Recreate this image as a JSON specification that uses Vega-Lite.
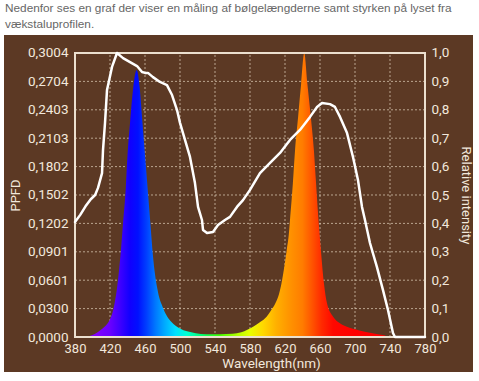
{
  "$schema": "https://vega.github.io/schema/vega-lite/v6.json",
  "width": 469,
  "height": 337,
  "autosize": {"type": "none"},
  "padding": {"left": 4, "top": 35, "right": 6, "bottom": 9},
  "background": "#ffffff",
  "view": {"fill": "#5c3924", "stroke": null},
  "title": {
    "text": ["Nedenfor ses en graf der viser en måling af bølgelængderne samt styrken på lyset fra", "vækstaluprofilen."],
    "anchor": "start", "frame": "group", "orient": "top",
    "font": "Liberation Sans", "fontSize": 11.8, "fontWeight": "normal", "color": "#666666",
    "lineHeight": 16, "offset": 4, "dx": 1
  },
  "datasets": {
    "vgrid": [{"nm": 420}, {"nm": 460}, {"nm": 500}, {"nm": 540}, {"nm": 580}, {"nm": 620}, {"nm": 660}, {"nm": 700}, {"nm": 740}],
    "hgrid": [{"ppfd": 0.03004}, {"ppfd": 0.06008}, {"ppfd": 0.09012}, {"ppfd": 0.12016}, {"ppfd": 0.1502}, {"ppfd": 0.18024}, {"ppfd": 0.21028}, {"ppfd": 0.24032}, {"ppfd": 0.27036}],
    "spec": [
      {"nm": 380, "ppfd": 0}, {"nm": 390, "ppfd": 0}, {"nm": 395, "ppfd": 0.0005}, {"nm": 400, "ppfd": 0.002},
      {"nm": 405, "ppfd": 0.0045}, {"nm": 410, "ppfd": 0.008}, {"nm": 415, "ppfd": 0.012}, {"nm": 419, "ppfd": 0.017},
      {"nm": 424, "ppfd": 0.03}, {"nm": 428, "ppfd": 0.0515}, {"nm": 432, "ppfd": 0.0867}, {"nm": 435, "ppfd": 0.122},
      {"nm": 438, "ppfd": 0.157}, {"nm": 440, "ppfd": 0.1925}, {"nm": 443, "ppfd": 0.2277}, {"nm": 446.5, "ppfd": 0.263},
      {"nm": 450.5, "ppfd": 0.2824}, {"nm": 454, "ppfd": 0.263}, {"nm": 457, "ppfd": 0.2277}, {"nm": 460, "ppfd": 0.1925},
      {"nm": 463, "ppfd": 0.157}, {"nm": 466, "ppfd": 0.122}, {"nm": 469, "ppfd": 0.0867}, {"nm": 474, "ppfd": 0.0515},
      {"nm": 481, "ppfd": 0.03}, {"nm": 490, "ppfd": 0.016}, {"nm": 500, "ppfd": 0.009}, {"nm": 508, "ppfd": 0.006},
      {"nm": 518, "ppfd": 0.004}, {"nm": 530, "ppfd": 0.003}, {"nm": 545, "ppfd": 0.003}, {"nm": 560, "ppfd": 0.0035},
      {"nm": 570, "ppfd": 0.005}, {"nm": 584, "ppfd": 0.011}, {"nm": 592, "ppfd": 0.016}, {"nm": 599, "ppfd": 0.0215},
      {"nm": 604, "ppfd": 0.028}, {"nm": 609, "ppfd": 0.0356}, {"nm": 613, "ppfd": 0.045}, {"nm": 616, "ppfd": 0.0569},
      {"nm": 619, "ppfd": 0.073}, {"nm": 622, "ppfd": 0.0921}, {"nm": 624.5, "ppfd": 0.11}, {"nm": 626, "ppfd": 0.1274},
      {"nm": 629, "ppfd": 0.1626}, {"nm": 631.5, "ppfd": 0.1978}, {"nm": 635, "ppfd": 0.233}, {"nm": 638.5, "ppfd": 0.2684},
      {"nm": 642, "ppfd": 0.3004}, {"nm": 645.5, "ppfd": 0.2684}, {"nm": 649.5, "ppfd": 0.233}, {"nm": 653, "ppfd": 0.1978},
      {"nm": 655.5, "ppfd": 0.1626}, {"nm": 658, "ppfd": 0.1274}, {"nm": 661, "ppfd": 0.0921}, {"nm": 664.5, "ppfd": 0.0569},
      {"nm": 668, "ppfd": 0.0356}, {"nm": 675, "ppfd": 0.0215}, {"nm": 682, "ppfd": 0.015}, {"nm": 690, "ppfd": 0.011},
      {"nm": 705, "ppfd": 0.007}, {"nm": 720, "ppfd": 0.004}, {"nm": 732, "ppfd": 0.002}, {"nm": 740, "ppfd": 0},
      {"nm": 780, "ppfd": 0}
    ],
    "rel": [
      {"nm": 380, "rel": 0.405}, {"nm": 386, "rel": 0.43}, {"nm": 392, "rel": 0.46}, {"nm": 398, "rel": 0.485},
      {"nm": 403, "rel": 0.5}, {"nm": 406.3, "rel": 0.525}, {"nm": 410.9, "rel": 0.577}, {"nm": 412, "rel": 0.658},
      {"nm": 414.3, "rel": 0.754}, {"nm": 416.6, "rel": 0.87}, {"nm": 422.3, "rel": 0.951}, {"nm": 428, "rel": 1.0},
      {"nm": 434.9, "rel": 0.982}, {"nm": 442.9, "rel": 0.968}, {"nm": 450.9, "rel": 0.954}, {"nm": 456.6, "rel": 0.933},
      {"nm": 460, "rel": 0.93}, {"nm": 463.4, "rel": 0.93}, {"nm": 469.1, "rel": 0.915}, {"nm": 477.1, "rel": 0.898},
      {"nm": 485.1, "rel": 0.887}, {"nm": 490.9, "rel": 0.852}, {"nm": 496.6, "rel": 0.799}, {"nm": 500, "rel": 0.754},
      {"nm": 505.7, "rel": 0.694}, {"nm": 511.4, "rel": 0.634}, {"nm": 517.1, "rel": 0.542}, {"nm": 520.6, "rel": 0.458},
      {"nm": 525.1, "rel": 0.412}, {"nm": 526.3, "rel": 0.377}, {"nm": 530.9, "rel": 0.366}, {"nm": 537.7, "rel": 0.37},
      {"nm": 543.4, "rel": 0.394}, {"nm": 551.4, "rel": 0.412}, {"nm": 557.1, "rel": 0.423}, {"nm": 565.1, "rel": 0.458},
      {"nm": 572, "rel": 0.482}, {"nm": 580, "rel": 0.518}, {"nm": 591.4, "rel": 0.577}, {"nm": 602.9, "rel": 0.613},
      {"nm": 614.3, "rel": 0.648}, {"nm": 625.7, "rel": 0.694}, {"nm": 637.1, "rel": 0.729}, {"nm": 648.6, "rel": 0.775},
      {"nm": 656.6, "rel": 0.81}, {"nm": 662.3, "rel": 0.824}, {"nm": 671.4, "rel": 0.82}, {"nm": 677.1, "rel": 0.81},
      {"nm": 682.9, "rel": 0.775}, {"nm": 690.9, "rel": 0.718}, {"nm": 697.7, "rel": 0.634}, {"nm": 703.4, "rel": 0.553},
      {"nm": 708, "rel": 0.458}, {"nm": 711.4, "rel": 0.412}, {"nm": 717.1, "rel": 0.331}, {"nm": 725.1, "rel": 0.246},
      {"nm": 732, "rel": 0.165}, {"nm": 737.7, "rel": 0.095}, {"nm": 743.4, "rel": 0.014}, {"nm": 745.7, "rel": 0},
      {"nm": 780, "rel": 0}
    ]
  },
  "layer": [
    {
      "layer": [
        {
          "data": {"name": "vgrid"},
          "mark": {"type": "rule", "color": "#e3d3bd", "strokeDash": [2, 2], "opacity": 0.7, "strokeWidth": 1},
          "encoding": {
            "x": {"field": "nm", "type": "quantitative", "scale": {"domain": [298.857, 834.857], "nice": false, "zero": false},
              "axis": {
                "orient": "bottom", "offset": -35,
                "title": "Wavelength(nm)", "titleX": 267,
                "values": [380, 420, 460, 500, 540, 580, 620, 660, 700, 740, 780],
                "grid": false, "domain": false, "ticks": false, "tickSize": 0, "labelFlush": false, "labelOverlap": false,
                "labelPadding": 5, "labelFont": "Roboto", "labelFontSize": 13, "labelColor": "#f2e8dc",
                "titlePadding": 1, "titleFont": "Roboto", "titleFontSize": 13.5, "titleFontWeight": "normal", "titleColor": "#f2e8dc"
              }},
            "y": {"datum": 0, "type": "quantitative", "scale": {"domain": [-0.037021, 0.319439], "nice": false, "zero": false},
              "axis": {
                "orient": "left", "offset": -71, "title": "PPFD", "titleX": -53, "titleY": 160,
                "values": [0, 0.03004, 0.06008, 0.09012, 0.12016, 0.1502, 0.18024, 0.21028, 0.24032, 0.27036, 0.3004],
                "labelExpr": "replace(format(datum.value, '.4f'), '.', ',')",
                "grid": false, "domain": false, "ticks": false, "tickSize": 0, "labelFlush": false, "labelOverlap": false,
                "labelPadding": 7, "labelFont": "Roboto", "labelFontSize": 13.5, "labelColor": "#f2e8dc",
                "titleFont": "Roboto", "titleFontSize": 13, "titleFontWeight": "normal", "titleColor": "#f2e8dc"
              }},
            "y2": {"datum": 0.3004}
          }
        },
        {
          "data": {"name": "hgrid"},
          "mark": {"type": "rule", "color": "#e3d3bd", "strokeDash": [2, 2], "opacity": 0.7, "strokeWidth": 1},
          "encoding": {
            "x": {"datum": 380, "type": "quantitative", "scale": {"domain": [298.857, 834.857], "nice": false, "zero": false},
              "axis": {
                "orient": "bottom", "offset": -35,
                "title": "Wavelength(nm)", "titleX": 267,
                "values": [380, 420, 460, 500, 540, 580, 620, 660, 700, 740, 780],
                "grid": false, "domain": false, "ticks": false, "tickSize": 0, "labelFlush": false, "labelOverlap": false,
                "labelPadding": 5, "labelFont": "Roboto", "labelFontSize": 13, "labelColor": "#f2e8dc",
                "titlePadding": 1, "titleFont": "Roboto", "titleFontSize": 13.5, "titleFontWeight": "normal", "titleColor": "#f2e8dc"
              }},
            "x2": {"datum": 780},
            "y": {"field": "ppfd", "type": "quantitative", "scale": {"domain": [-0.037021, 0.319439], "nice": false, "zero": false},
              "axis": {
                "orient": "left", "offset": -71, "title": "PPFD", "titleX": -53, "titleY": 160,
                "values": [0, 0.03004, 0.06008, 0.09012, 0.12016, 0.1502, 0.18024, 0.21028, 0.24032, 0.27036, 0.3004],
                "labelExpr": "replace(format(datum.value, '.4f'), '.', ',')",
                "grid": false, "domain": false, "ticks": false, "tickSize": 0, "labelFlush": false, "labelOverlap": false,
                "labelPadding": 7, "labelFont": "Roboto", "labelFontSize": 13.5, "labelColor": "#f2e8dc",
                "titleFont": "Roboto", "titleFontSize": 13, "titleFontWeight": "normal", "titleColor": "#f2e8dc"
              }}
          }
        },
        {
          "data": {"name": "spec"},
          "mark": {
            "type": "area", "interpolate": "monotone",
            "fill": {
              "gradient": "linear", "x1": 0, "y1": 0, "x2": 1, "y2": 0,
              "stops": [
                {"offset": 0, "color": "#7a00ff"},
                {"offset": 0.0625, "color": "#8000ff"},
                {"offset": 0.1, "color": "#6a00ff"},
                {"offset": 0.13, "color": "#3c00ff"},
                {"offset": 0.1575, "color": "#1000ff"},
                {"offset": 0.18, "color": "#0010ff"},
                {"offset": 0.205, "color": "#0040ff"},
                {"offset": 0.23, "color": "#0078ff"},
                {"offset": 0.255, "color": "#00a8ff"},
                {"offset": 0.2875, "color": "#00e0ff"},
                {"offset": 0.32, "color": "#00ffd0"},
                {"offset": 0.3625, "color": "#00ff70"},
                {"offset": 0.4125, "color": "#40ff00"},
                {"offset": 0.4625, "color": "#b0ff00"},
                {"offset": 0.5, "color": "#e8ff00"},
                {"offset": 0.5375, "color": "#ffd800"},
                {"offset": 0.575, "color": "#ffb000"},
                {"offset": 0.6125, "color": "#ff9400"},
                {"offset": 0.65, "color": "#ff7c00"},
                {"offset": 0.68, "color": "#ff5000"},
                {"offset": 0.705, "color": "#ff2a00"},
                {"offset": 0.7375, "color": "#ff0800"},
                {"offset": 0.8, "color": "#ff0000"},
                {"offset": 1, "color": "#ff0000"}
              ]
            },
            "fillOpacity": 1
          },
          "encoding": {
            "x": {"field": "nm", "type": "quantitative", "scale": {"domain": [298.857, 834.857], "nice": false, "zero": false},
              "axis": {
                "orient": "bottom", "offset": -35,
                "title": "Wavelength(nm)", "titleX": 267,
                "values": [380, 420, 460, 500, 540, 580, 620, 660, 700, 740, 780],
                "grid": false, "domain": false, "ticks": false, "tickSize": 0, "labelFlush": false, "labelOverlap": false,
                "labelPadding": 5, "labelFont": "Roboto", "labelFontSize": 13, "labelColor": "#f2e8dc",
                "titlePadding": 1, "titleFont": "Roboto", "titleFontSize": 13.5, "titleFontWeight": "normal", "titleColor": "#f2e8dc"
              }},
            "y": {"field": "ppfd", "type": "quantitative", "scale": {"domain": [-0.037021, 0.319439], "nice": false, "zero": false},
              "axis": {
                "orient": "left", "offset": -71, "title": "PPFD", "titleX": -53, "titleY": 160,
                "values": [0, 0.03004, 0.06008, 0.09012, 0.12016, 0.1502, 0.18024, 0.21028, 0.24032, 0.27036, 0.3004],
                "labelExpr": "replace(format(datum.value, '.4f'), '.', ',')",
                "grid": false, "domain": false, "ticks": false, "tickSize": 0, "labelFlush": false, "labelOverlap": false,
                "labelPadding": 7, "labelFont": "Roboto", "labelFontSize": 13.5, "labelColor": "#f2e8dc",
                "titleFont": "Roboto", "titleFontSize": 13, "titleFontWeight": "normal", "titleColor": "#f2e8dc"
              }}
          }
        },
        {
          "data": {"values": [{}]},
          "mark": {"type": "rect", "fill": null, "stroke": "#ece0cf", "strokeWidth": 2},
          "encoding": {
            "x": {"datum": 380, "type": "quantitative", "scale": {"domain": [298.857, 834.857], "nice": false, "zero": false},
              "axis": {
                "orient": "bottom", "offset": -35,
                "title": "Wavelength(nm)", "titleX": 267,
                "values": [380, 420, 460, 500, 540, 580, 620, 660, 700, 740, 780],
                "grid": false, "domain": false, "ticks": false, "tickSize": 0, "labelFlush": false, "labelOverlap": false,
                "labelPadding": 5, "labelFont": "Roboto", "labelFontSize": 13, "labelColor": "#f2e8dc",
                "titlePadding": 1, "titleFont": "Roboto", "titleFontSize": 13.5, "titleFontWeight": "normal", "titleColor": "#f2e8dc"
              }},
            "x2": {"datum": 780},
            "y": {"datum": 0, "type": "quantitative", "scale": {"domain": [-0.037021, 0.319439], "nice": false, "zero": false},
              "axis": {
                "orient": "left", "offset": -71, "title": "PPFD", "titleX": -53, "titleY": 160,
                "values": [0, 0.03004, 0.06008, 0.09012, 0.12016, 0.1502, 0.18024, 0.21028, 0.24032, 0.27036, 0.3004],
                "labelExpr": "replace(format(datum.value, '.4f'), '.', ',')",
                "grid": false, "domain": false, "ticks": false, "tickSize": 0, "labelFlush": false, "labelOverlap": false,
                "labelPadding": 7, "labelFont": "Roboto", "labelFontSize": 13.5, "labelColor": "#f2e8dc",
                "titleFont": "Roboto", "titleFontSize": 13, "titleFontWeight": "normal", "titleColor": "#f2e8dc"
              }},
            "y2": {"datum": 0.3004}
          }
        }
      ]
    },
    {
      "data": {"name": "rel"},
      "mark": {"type": "line", "color": "#ffffff", "strokeWidth": 2.5, "strokeJoin": "round", "strokeCap": "round"},
      "encoding": {
        "x": {"field": "nm", "type": "quantitative", "scale": {"domain": [298.857, 834.857], "nice": false, "zero": false},
          "axis": {
            "orient": "bottom", "offset": -35,
            "title": "Wavelength(nm)", "titleX": 267,
            "values": [380, 420, 460, 500, 540, 580, 620, 660, 700, 740, 780],
            "grid": false, "domain": false, "ticks": false, "tickSize": 0, "labelFlush": false, "labelOverlap": false,
            "labelPadding": 5, "labelFont": "Roboto", "labelFontSize": 13, "labelColor": "#f2e8dc",
            "titlePadding": 1, "titleFont": "Roboto", "titleFontSize": 13.5, "titleFontWeight": "normal", "titleColor": "#f2e8dc"
          }},
        "y": {
          "field": "rel", "type": "quantitative",
          "scale": {"domain": [-0.123239, 1.06338], "nice": false, "zero": false},
          "axis": {
            "orient": "right", "offset": -48, "title": "Relative intensity", "titleX": 33, "titleY": 160,
            "values": [0, 0.1, 0.2, 0.3, 0.4, 0.5, 0.6, 0.7, 0.8, 0.9, 1],
            "labelExpr": "replace(format(datum.value, '.1f'), '.', ',')",
            "grid": false, "domain": false, "ticks": false, "tickSize": 0, "labelFlush": false, "labelOverlap": false,
            "labelPadding": 6, "labelFont": "Roboto", "labelFontSize": 13.5, "labelColor": "#f2e8dc",
            "titleFont": "Roboto", "titleFontSize": 13, "titleFontWeight": "normal", "titleColor": "#f2e8dc"
          }
        }
      }
    }
  ],
  "resolve": {"scale": {"y": "independent"}}
}
